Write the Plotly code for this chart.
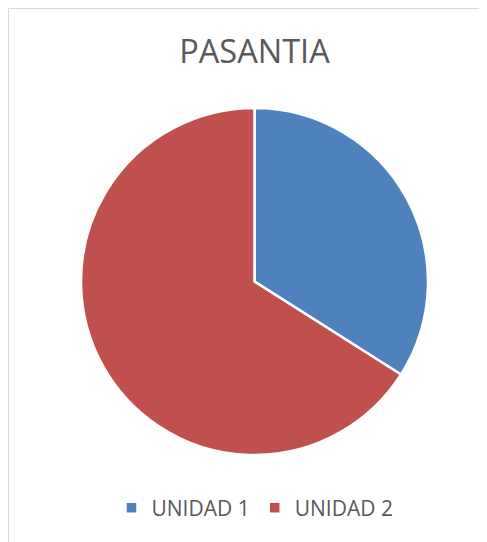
import plotly.graph_objects as go

labels = ["UNIDAD 1", "UNIDAD 2"]
values = [34, 66]
colors = ["#4F81BD", "#C0504D"]

W, H = 487, 542
OX, OY = 8, 8  # page offset of the figure
cx, cy, r = 254.5 - OX, 281.5 - OY, 173.5

fig = go.Figure(go.Pie(
    labels=labels, values=values, sort=False, direction="clockwise", rotation=0,
    marker=dict(colors=colors, line=dict(color="white", width=2.5)),
    textinfo="none", hoverinfo="label+value",
    domain=dict(x=[(cx - r) / W, (cx + r) / W], y=[(H - cy - r) / H, (H - cy + r) / H]),
))

fig.update_layout(
    width=W, height=H,
    margin=dict(l=0, r=0, t=0, b=0),
    paper_bgcolor="white", plot_bgcolor="white",
    title=dict(text="PASANTIA", x=(254.5 - OX) / W, xanchor="center", y=(H - (52 - OY)) / H, yanchor="middle",
               font=dict(family="Open Sans", size=32.5, color="#595959")),
    legend=dict(orientation="h", x=(255 - OX) / W, xanchor="center", y=(H - (508 - OY)) / H, yanchor="middle",
                font=dict(family="Open Sans", size=21, color="#595959"), itemclick=False, itemwidth=30),
    shapes=[dict(type="rect", xref="paper", yref="paper", x0=0.5 / W, x1=1.2, y0=-0.2, y1=(H - 0.5) / H,
                 line=dict(color="#D9D9D9", width=1), fillcolor="rgba(0,0,0,0)")],
)

fig.write_html("out.html")
